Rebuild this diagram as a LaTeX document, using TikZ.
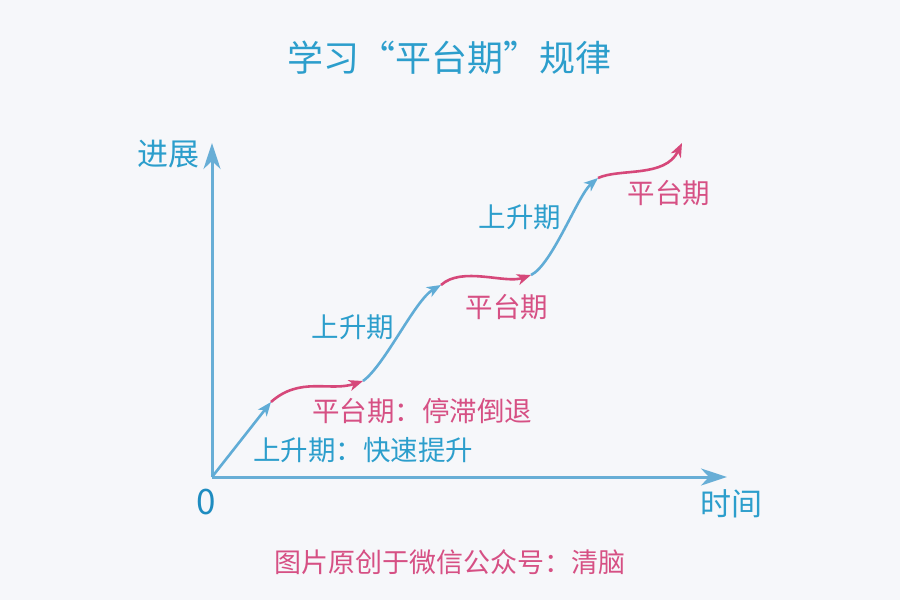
\documentclass[tikz,border=0pt]{standalone}
\usepackage{fontspec}
\setmainfont{Noto Sans CJK SC}
\usetikzlibrary{arrows.meta}
\definecolor{bg}{RGB}{246,247,250}
\definecolor{axisblue}{RGB}{104,174,214}
\definecolor{lineblue}{RGB}{96,172,214}
\definecolor{txtblue}{RGB}{44,158,204}
\definecolor{zeroblue}{RGB}{30,140,192}
\definecolor{pinkline}{RGB}{214,72,122}
\definecolor{pinktxt}{RGB}{214,80,132}
\tikzset{
  axisline/.style={draw=axisblue, line width=3pt, -{Stealth[length=26pt,width=17pt,inset=8pt]}},
  riseline/.style={draw=lineblue, line width=2.6pt, -{Stealth[length=14pt,width=11pt,inset=4pt]}},
  flatline/.style={draw=pinkline, line width=2.6pt, -{Stealth[length=14pt,width=11pt,inset=4pt]}},
  bluelbl/.style={text=txtblue, font=\fontsize{27.5}{32}\selectfont, inner sep=0pt},
  pinklbl/.style={text=pinktxt, font=\fontsize{27.5}{32}\selectfont, inner sep=0pt},
}
\begin{document}
\begin{tikzpicture}[x=1pt,y=-1pt]
\fill[bg] (0,0) rectangle (900,600);
\useasboundingbox (0,0) rectangle (900,600);
% title
\node[bluelbl, font=\fontsize{36}{42}\selectfont] (title) at (449,58) {学习“平台期”规律};
% axes
\coordinate (O) at (212,477);
\coordinate (ytip) at (212,143);
\coordinate (xtip) at (727,477);
\draw[axisline] (O) -- (ytip);
\draw[axisline] (O) -- (xtip);
\node[bluelbl, font=\fontsize{31}{36}\selectfont] (ylab) at (168,154) {进展};
\node[bluelbl, font=\fontsize{31}{36}\selectfont] (xlab) at (731,504) {时间};
\node[text=zeroblue, font=\fontsize{35}{40}\selectfont, inner sep=0pt] (zero) at (206,502) {0};
% curve points
\coordinate (p1) at (271,402);
\coordinate (p2) at (363,381);
\coordinate (p3) at (441,285);
\coordinate (p4) at (531,275);
\coordinate (p5) at (598,178);
\coordinate (p6) at (682,143);
\draw[riseline] (O) -- (p1);
\draw[flatline] (p1) .. controls (300,376) and (330,392) .. (p2);
\draw[riseline] (p2) .. controls (385,365) and (415,300) .. (p3);
\draw[flatline] (p3) .. controls (462,266) and (505,284) .. (p4);
\draw[riseline] (p4) .. controls (552,265) and (578,195) .. (p5);
\draw[flatline] (p5) .. controls (620,168) and (665,178) .. (p6);
% labels
\node[bluelbl] (r1) at (363,450) {上升期：快速提升};
\node[pinklbl] (f1) at (422,411) {平台期：停滞倒退};
\node[bluelbl] (r2) at (353,327) {上升期};
\node[pinklbl] (f2) at (507,307) {平台期};
\node[bluelbl] (r3) at (520,217) {上升期};
\node[pinklbl] (f3) at (669,193) {平台期};
% footer
\node[pinklbl, font=\fontsize{27}{32}\selectfont] (foot) at (450,562) {图片原创于微信公众号：清脑};
\end{tikzpicture}
\end{document}
